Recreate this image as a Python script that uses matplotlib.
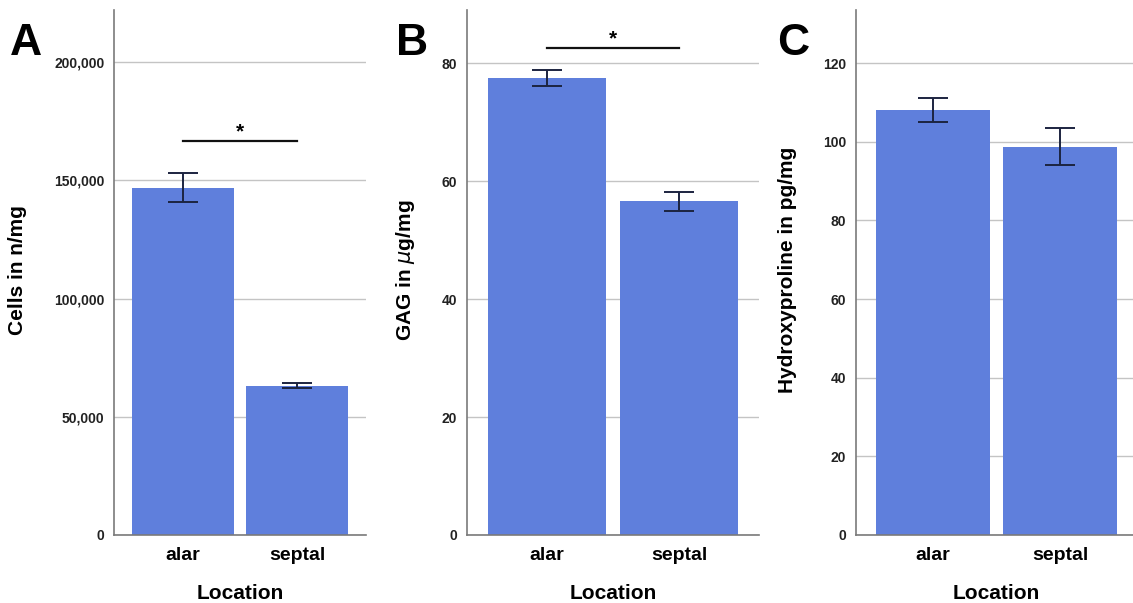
import numpy as np
import matplotlib
matplotlib.use("Agg")
import matplotlib.pyplot as plt
from matplotlib.ticker import FuncFormatter

plt.rcParams['font.family'] = ['Liberation Sans', 'DejaVu Sans']
plt.rcParams['mathtext.fontset'] = 'dejavusans'

locations = ["alar", "septal"]

# means and error bar ends per panel
cells_mean = [146600, 63100]
cells_hi = [153000, 64300]
cells_lo = [140800, 62200]

gag_mean = [77.5, 56.6]
gag_hi = [78.8, 58.1]
gag_lo = [76.2, 55.0]

hyp_mean = [108.0, 98.7]
hyp_hi = [111.0, 103.5]
hyp_lo = [105.0, 94.1]

panel_letters = ["A", "B", "C"]
ylabels = ["Cells in n/mg", r"GAG in $\mathit{\mu}$g/mg", "Hydroxyproline in pg/mg"]
ylims = [222000, 89, 133.5]
yticks = [[0, 50000, 100000, 150000, 200000],
          [0, 20, 40, 60, 80],
          [0, 20, 40, 60, 80, 100, 120]]
# significance bracket height (None = no bracket)
sig_level = [166500, 82.5, None]

bar_color = "#5f7fdc"
err_color = "#1c2440"

fig = plt.figure(figsize=(11.33, 6.03), dpi=100)
rects = [
    (114 / 1133, 68 / 603, 252 / 1133, 525 / 603),
    (467 / 1133, 68 / 603, 292 / 1133, 525 / 603),
    (856 / 1133, 68 / 603, 281 / 1133, 525 / 603),
]
letter_x = [10 / 1133, 396 / 1133, 777 / 1133]
ylabel_x = [27 / 1133, 417 / 1133, 797 / 1133]

data = [(cells_mean, cells_lo, cells_hi),
        (gag_mean, gag_lo, gag_hi),
        (hyp_mean, hyp_lo, hyp_hi)]

x = np.arange(len(locations))
for i, (mean, lo, hi) in enumerate(data):
    ax = fig.add_axes(rects[i])
    mean = np.array(mean)
    yerr = np.vstack([mean - np.array(lo), np.array(hi) - mean])
    ax.bar(x, mean, width=0.895, color=bar_color, zorder=2)
    ax.errorbar(x, mean, yerr=yerr, fmt="none", ecolor=err_color,
                elinewidth=1.4, capsize=11, capthick=1.4, zorder=3)
    ax.set_xlim(-0.605, 1.605)
    ax.set_ylim(0, ylims[i])
    ax.set_yticks(yticks[i])
    ax.set_xticks(x)
    ax.set_xticklabels(locations, fontsize=14, fontweight="bold")
    ax.yaxis.set_major_formatter(FuncFormatter(lambda v, p: f"{int(v):,}"))
    for lab in ax.get_yticklabels():
        lab.set_fontweight("bold")
        lab.set_fontsize(10)
    ax.tick_params(axis="both", length=0)
    ax.tick_params(axis="y", pad=7, colors="#222222")
    ax.tick_params(axis="x", pad=9)
    ax.grid(axis="y", color="#c4c4c4", linewidth=1.0, zorder=0)
    ax.set_axisbelow(True)
    for side in ["top", "right"]:
        ax.spines[side].set_visible(False)
    for side in ["left", "bottom"]:
        ax.spines[side].set_color("#7a7a7a")
        ax.spines[side].set_linewidth(1.2)
    ax.set_xlabel("Location", fontsize=15, fontweight="bold", labelpad=14)
    ax.set_ylabel(ylabels[i], fontsize=15, fontweight="bold")
    ax.yaxis.set_label_coords(ylabel_x[i], 1 - 270 / 603, transform=fig.transFigure)
    if sig_level[i] is not None:
        ax.plot([0, 1], [sig_level[i], sig_level[i]], color="#111111",
                linewidth=1.6, zorder=3)
        ax.text(0.5, sig_level[i], "*", ha="center", va="bottom",
                fontsize=15, fontweight="bold")
    fig.text(letter_x[i], 1 - 55 / 603, panel_letters[i], fontsize=32,
             fontweight="bold", ha="left", va="baseline")

fig.savefig("out.png", dpi=100)
